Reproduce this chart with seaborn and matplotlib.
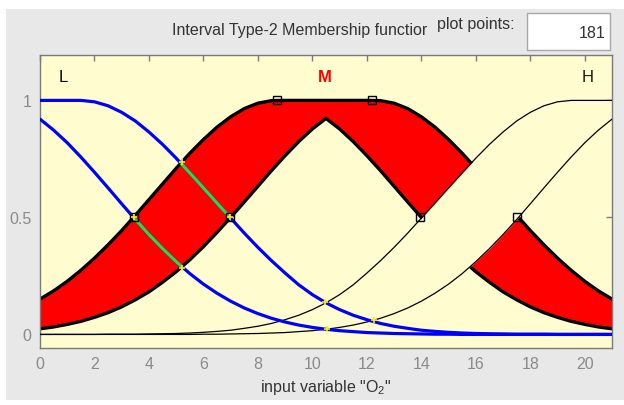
import matplotlib
matplotlib.use("Agg")
import matplotlib.pyplot as plt
import seaborn as sns
import pandas as pd
from matplotlib.patches import Rectangle

# ---------------- data ----------------
x_pts = [0, 0.5, 1, 1.5, 2, 2.5, 3, 3.5, 4, 4.5, 5, 5.5, 6, 6.5, 7, 7.5, 8, 8.5,
         9, 9.5, 10, 10.5, 11, 11.5, 12, 12.5, 13, 13.5, 14, 14.5, 15, 15.5,
         16, 16.5, 17, 17.5, 18, 18.5, 19, 19.5, 20, 20.5, 21]

L_upper = [1, 1, 1, 1, .994, .977, .949, .912, .865, .812, .753, .690, .626, .561,
           .497, .433, .372, .315, .262, .212, .170, .135, .106, .082, .063, .047,
           .035, .026, .018, .013, .009, .006, .004, .003, .002, .001, .001, .001,
           0, 0, 0, 0, 0]
L_lower = [.920, .873, .819, .758, .693, .626, .558, .491, .427, .367, .311, .260,
           .215, .176, .142, .113, .089, .069, .053, .040, .030, .022, .016, .012,
           .008, .006, .004, .003, .002, .001, .001, 0, 0, 0, 0, 0, 0, 0, 0, 0, 0, 0, 0]
M_upper = [.151, .186, .227, .274, .326, .383, .444, .509, .576, .643, .710, .774,
           .833, .886, .930, .965, .988, .999, 1, 1, 1, 1, 1, 1, 1, .999, .988, .965,
           .930, .886, .833, .774, .710, .643, .576, .509, .444, .383, .326, .274,
           .227, .186, .151]
M_lower = [.024, .032, .043, .056, .073, .093, .118, .148, .182, .223, .268, .319,
           .375, .436, .500, .566, .633, .700, .764, .824, .878, .923, .878, .824,
           .764, .700, .633, .566, .500, .436, .375, .319, .268, .223, .182, .148,
           .118, .093, .073, .056, .043, .032, .024]
H_upper = [0, 0, 0, 0, 0, .001, .001, .001, .002, .003, .004, .006, .009, .013,
           .018, .026, .035, .047, .063, .082, .106, .135, .170, .212, .262, .315,
           .372, .433, .497, .561, .626, .690, .753, .812, .865, .912, .949, .977,
           .994, 1, 1, 1, 1]
H_lower = [0, 0, 0, 0, 0, 0, 0, 0, 0, 0, 0, 0, .001, .001, .002, .003, .004, .006,
           .008, .012, .016, .022, .030, .040, .053, .069, .089, .113, .142, .176,
           .215, .260, .311, .367, .427, .491, .558, .626, .693, .758, .819, .873, .920]

mf_names = ["L", "M", "H"]
mf_name_x = [0.84, 10.46, 20.1]
mf_name_y = [1.10, 1.10, 1.10]
mf_name_colors = ["black", "#ff0000", "#1a1a1a"]
mf_name_weights = ["normal", "bold", "normal"]

square_x = [3.45, 6.97, 8.7, 12.2, 13.95, 17.5]
square_y = [0.5, 0.5, 1.0, 1.0, 0.5, 0.5]
cross_x = [3.45, 5.2, 5.2, 6.97, 10.46, 12.25, 10.55]
cross_y = [0.5, 0.735, 0.285, 0.5, 0.14, 0.062, 0.022]

x_ticks = [0, 2, 4, 6, 8, 10, 12, 14, 16, 18, 20]
y_ticks = [0, 0.5, 1]
y_tick_labels = ["0", "0.5", "1"]

title_text = "Interval Type-2 Membership functior"
points_label = "plot points:"
points_value = "181"
x_label = 'input variable "O$_2$"'

# ---------------- styling ----------------
sns.set_theme(style="white")
plt.rcParams["font.family"] = ["Liberation Sans", "DejaVu Sans"]
plt.rcParams["mathtext.fontset"] = "custom"
plt.rcParams["mathtext.rm"] = "Liberation Sans"
FS = 11.5

df = pd.DataFrame({"x": x_pts, "Lu": L_upper, "Ll": L_lower, "Mu": M_upper,
                   "Ml": M_lower, "Hu": H_upper, "Hl": H_lower})

W, H = 624, 406
fig = plt.figure(figsize=(W / 100, H / 100), dpi=100, facecolor="white")
fig.patches.append(Rectangle((6 / W, 1 - 401 / H), 618 / W, 391 / H,
                             transform=fig.transFigure, facecolor="#e8e8e8",
                             edgecolor="none", zorder=-10))
ax = fig.add_axes([40 / W, 1 - 349 / H, 572 / W, 293 / H])
face = "#fffdd0"
ax.set_facecolor(face)

# M (selected) footprint of uncertainty in red
red_fill = ax.fill_between(df["x"], df["Ml"], df["Mu"], color="#ff0000",
                           linewidth=0, zorder=2)
sns.lineplot(data=df, x="x", y="Mu", ax=ax, color="black", linewidth=2.4,
             zorder=2.2, estimator=None, sort=False)
sns.lineplot(data=df, x="x", y="Ml", ax=ax, color="black", linewidth=2.4,
             zorder=2.2, estimator=None, sort=False)

# H footprint (background colored) over M
ax.fill_between(df["x"], df["Hl"], df["Hu"], color=face, linewidth=0, zorder=2.4)
sns.lineplot(data=df, x="x", y="Hu", ax=ax, color="black", linewidth=0.9,
             zorder=2.6, estimator=None, sort=False)
sns.lineplot(data=df, x="x", y="Hl", ax=ax, color="black", linewidth=0.9,
             zorder=2.6, estimator=None, sort=False)

# L in blue
sns.lineplot(data=df, x="x", y="Lu", ax=ax, color="#0000ff", linewidth=2.3,
             zorder=3, estimator=None, sort=False)
sns.lineplot(data=df, x="x", y="Ll", ax=ax, color="#0000ff", linewidth=2.3,
             zorder=3, estimator=None, sort=False)

# parts of L inside the red FOU drawn green
clip_path = red_fill.get_paths()[0]
for col in ["Lu", "Ll"]:
    sns.lineplot(data=df, x="x", y=col, ax=ax, color="#22dd44", linewidth=2.3,
                 zorder=3.2, estimator=None, sort=False)
    ax.lines[-1].set_clip_path(clip_path, ax.transData)

ax.plot(square_x, square_y, "s", mfc="none", mec="black", ms=6, mew=1, zorder=4)
ax.plot(cross_x, cross_y, "+", color="#ffee00", ms=5, mew=1.2, zorder=4.2)

for name, tx, ty, c, wgt in zip(mf_names, mf_name_x, mf_name_y, mf_name_colors,
                                mf_name_weights):
    ax.text(tx, ty, name, color=c, fontsize=12, fontweight=wgt,
            ha="center", va="center")

ax.set_xlim(0, 21)
ax.set_ylim(-0.058, 1.194)
ax.set_xticks(x_ticks)
ax.set_xticklabels([str(t) for t in x_ticks])
ax.set_yticks(y_ticks)
ax.set_yticklabels(y_tick_labels)
ax.tick_params(direction="in", length=4, width=1, top=True, right=True,
               colors="#7a7a7a", labelcolor="#8a8a8a", labelsize=FS, pad=6)
for s in ax.spines.values():
    s.set_color("#7a7a7a")
    s.set_linewidth(1)
ax.set_xlabel(x_label, fontsize=FS, color="#333333", labelpad=4)
ax.set_ylabel("")

fig.text(172 / W, 1 - 31 / H, title_text, ha="left", va="center", fontsize=FS,
         color="#333333")
fig.text(437 / W, 1 - 24 / H, points_label, ha="left", va="center", fontsize=FS,
         color="#333333")
fig.patches.append(Rectangle((527 / W, 1 - 51 / H), 83 / W, 37 / H,
                             transform=fig.transFigure, facecolor="white",
                             edgecolor="#a8a8a8", linewidth=1, zorder=-5))
fig.text(605 / W, 1 - 33 / H, points_value, ha="right", va="center", fontsize=FS,
         color="#333333")

fig.savefig("out.png", dpi=100, facecolor="white")
